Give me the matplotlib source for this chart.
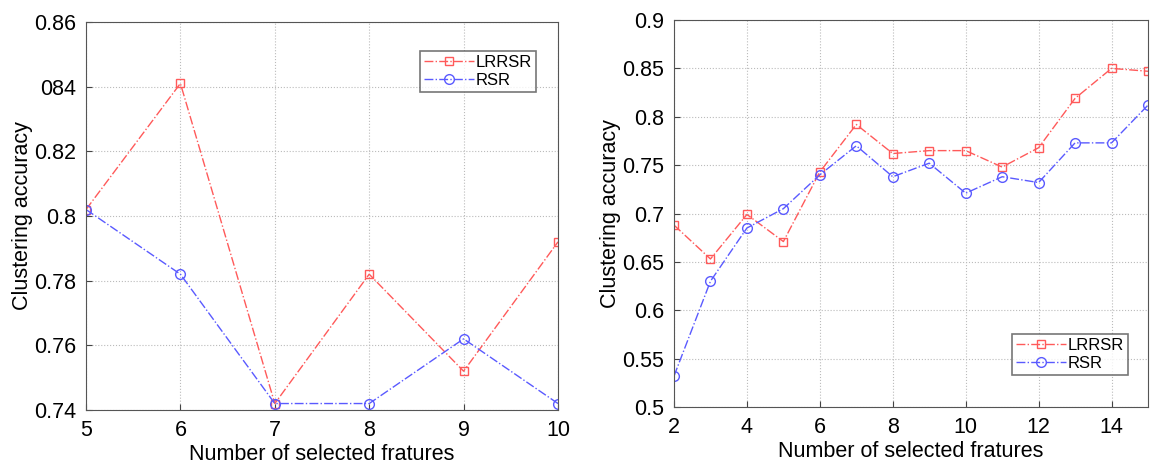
import numpy as np
import matplotlib.pyplot as plt

plt.rcParams['font.family'] = ['Liberation Sans', 'DejaVu Sans']

# Left panel data
xLeft = [5, 6, 7, 8, 9, 10]
lrrsrLeft = [0.802, 0.841, 0.742, 0.782, 0.752, 0.792]
rsrLeft = [0.802, 0.782, 0.742, 0.742, 0.762, 0.742]
yTicksLeft = [0.74, 0.76, 0.78, 0.80, 0.82, 0.84, 0.86]
yLabelsLeft = ['0.74', '0.76', '0.78', '0.8', '0.82', '084', '0.86']

# Right panel data
xRight = [2, 3, 4, 5, 6, 7, 8, 9, 10, 11, 12, 13, 14, 15]
lrrsrRight = [0.688, 0.653, 0.699, 0.671, 0.743, 0.792, 0.762, 0.765, 0.765,
              0.748, 0.768, 0.819, 0.850, 0.847]
rsrRight = [0.532, 0.630, 0.685, 0.705, 0.740, 0.770, 0.738, 0.752, 0.721,
            0.738, 0.732, 0.773, 0.773, 0.812]
yTicksRight = [0.5, 0.55, 0.6, 0.65, 0.7, 0.75, 0.8, 0.85, 0.9]
yLabelsRight = ['0.5', '0.55', '0.6', '0.65', '0.7', '0.75', '0.8', '0.85', '0.9']
xTicksRight = [2, 4, 6, 8, 10, 12, 14]

redColor = '#ff5a5a'
blueColor = '#5a5aff'
W, H = 1150, 465

fig = plt.figure(figsize=(W / 100, H / 100), dpi=100)
axLeft = fig.add_axes([86 / W, 1 - 410 / H, (558 - 86) / W, (410 - 22) / H])
axRight = fig.add_axes([674 / W, 1 - 407 / H, (1148 - 674) / W, (407 - 20) / H])


def drawPanel(ax, x, lrrsr, rsr):
    ax.plot(x, lrrsr, color=redColor, linestyle='-.', linewidth=1.0,
            marker='s', markersize=5.5, markerfacecolor='none',
            markeredgecolor=redColor, markeredgewidth=1.0, label='LRRSR')
    ax.plot(x, rsr, color=blueColor, linestyle='-.', linewidth=1.0,
            marker='o', markersize=7, markerfacecolor='none',
            markeredgecolor=blueColor, markeredgewidth=1.0, label='RSR')
    ax.grid(True, linestyle=':', color='#bbbbbb', linewidth=0.8)
    ax.tick_params(direction='in', labelsize=15.5, length=4, pad=7, color='#444444')
    for s in ax.spines.values():
        s.set_color('#555555')
    ax.set_xlabel('Number of selected fratures', fontsize=15.5, labelpad=2)
    ax.set_ylabel('Clustering accuracy', fontsize=15.5, labelpad=1)


drawPanel(axLeft, xLeft, lrrsrLeft, rsrLeft)
axLeft.set_xlim(5, 10)
axLeft.set_ylim(0.74, 0.86)
axLeft.set_yticks(yTicksLeft)
axLeft.set_yticklabels(yLabelsLeft)
axLeft.set_xticks(xLeft)
legL = axLeft.legend(loc='upper left', bbox_to_anchor=((420 - 86) / (558 - 86), 1 - (51 - 22) / (410 - 22)),
                     fontsize=12, frameon=True, fancybox=False, handlelength=3.0,
                     borderpad=0.25, labelspacing=0.15, handletextpad=0.1, borderaxespad=0)
legL.get_frame().set_edgecolor('#555555')
legL.get_frame().set_linewidth(1.2)

drawPanel(axRight, xRight, lrrsrRight, rsrRight)
axRight.set_xlim(2, 15)
axRight.set_ylim(0.5, 0.9)
axRight.set_yticks(yTicksRight)
axRight.set_yticklabels(yLabelsRight)
axRight.set_xticks(xTicksRight)
legR = axRight.legend(loc='upper left', bbox_to_anchor=((1012 - 674) / (1148 - 674), 1 - (334 - 20) / (407 - 20)),
                      fontsize=12, frameon=True, fancybox=False, handlelength=3.0,
                      borderpad=0.25, labelspacing=0.15, handletextpad=0.1, borderaxespad=0)
legR.get_frame().set_edgecolor('#555555')
legR.get_frame().set_linewidth(1.2)

fig.savefig('out.png', dpi=100)
